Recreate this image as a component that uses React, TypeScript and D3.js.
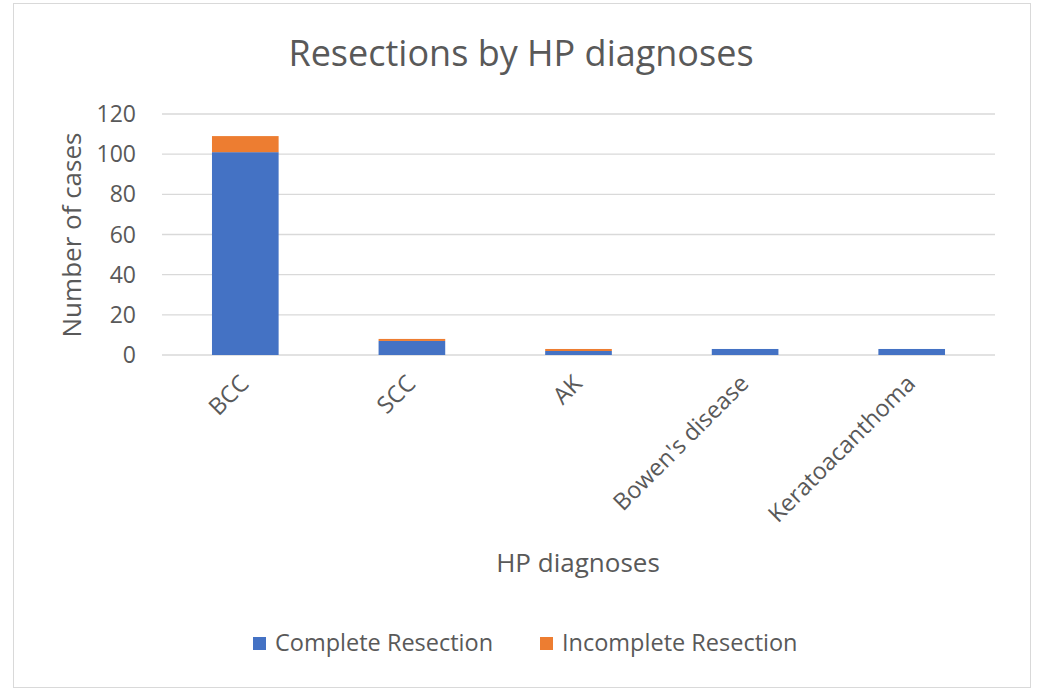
import { useEffect, useRef } from 'react';
import * as d3 from 'd3';

const categories = ['BCC', 'SCC', 'AK', "Bowen's disease", 'Keratoacanthoma'];
const complete = [101, 7, 2, 3, 3];
const incomplete = [8, 1, 1, 0, 0];
const seriesNames = ['Complete Resection', 'Incomplete Resection'];
const yTicks = [0, 20, 40, 60, 80, 100, 120];

const W = 1040;
const H = 699;
const colors = ['#4472C4', '#ED7D31'];
const textColor = '#595959';
const font = '"Open Sans", sans-serif';

export default function App() {
    const svgRef = useRef<SVGSVGElement | null>(null);

    useEffect(() => {
        if (!svgRef.current) return;
        const svg = d3.select(svgRef.current);
        svg.selectAll('*').remove();

        // chart area border
        svg.append('rect')
            .attr('x', 13.5).attr('y', 3.5)
            .attr('width', 1017).attr('height', 684)
            .attr('fill', '#fff')
            .attr('stroke', '#d9d9d9');

        const x = d3.scaleBand<string>()
            .domain(categories)
            .range([162, 995])
            .paddingInner(0.6)
            .paddingOuter(0.3);

        const y = d3.scaleLinear().domain([0, 120]).range([355, 114]);

        // gridlines
        svg.append('g')
            .selectAll('line')
            .data(yTicks)
            .join('line')
            .attr('x1', 162).attr('x2', 995)
            .attr('y1', d => y(d)).attr('y2', d => y(d))
            .attr('stroke', '#d9d9d9')
            .attr('stroke-width', 1.3);

        // y tick labels
        svg.append('g')
            .selectAll('text')
            .data(yTicks)
            .join('text')
            .attr('x', 136)
            .attr('y', d => y(d))
            .attr('dy', '0.35em')
            .attr('text-anchor', 'end')
            .attr('font-family', font)
            .attr('font-size', 23)
            .attr('fill', textColor)
            .text(d => d);

        // stacked bars
        const rows = categories.map((c, i) => ({ cat: c, complete: complete[i], incomplete: incomplete[i] }));
        const stack = d3.stack<typeof rows[number]>().keys(['complete', 'incomplete']);
        const layers = stack(rows);

        svg.append('g')
            .selectAll('g')
            .data(layers)
            .join('g')
            .attr('fill', (_, i) => colors[i])
            .selectAll('rect')
            .data(d => d)
            .join('rect')
            .attr('x', d => x(d.data.cat)!)
            .attr('width', x.bandwidth())
            .attr('y', d => y(d[1]))
            .attr('height', d => y(d[0]) - y(d[1]));

        // x labels
        svg.append('g')
            .selectAll('text')
            .data(categories)
            .join('text')
            .attr('transform', d => `translate(${x(d)! + x.bandwidth() / 2 + 5}, 385) rotate(-45)`)
            .attr('text-anchor', 'end')
            .attr('font-family', font)
            .attr('font-size', 23.5)
            .attr('fill', textColor)
            .text(d => d);

        // title
        svg.append('text')
            .attr('x', 521).attr('y', 66)
            .attr('text-anchor', 'middle')
            .attr('font-family', font)
            .attr('font-size', 36)
            .attr('fill', textColor)
            .text('Resections by HP diagnoses');

        // axis titles
        svg.append('text')
            .attr('transform', 'translate(81, 235) rotate(-90)')
            .attr('text-anchor', 'middle')
            .attr('font-family', font)
            .attr('font-size', 26)
            .attr('fill', textColor)
            .text('Number of cases');

        svg.append('text')
            .attr('x', 578).attr('y', 572)
            .attr('text-anchor', 'middle')
            .attr('font-family', font)
            .attr('font-size', 26)
            .attr('fill', textColor)
            .text('HP diagnoses');

        // legend
        const legendX = [253, 540];
        const legend = svg.append('g')
            .selectAll('g')
            .data(seriesNames)
            .join('g')
            .attr('transform', (_, i) => `translate(${legendX[i]}, 643)`);
        legend.append('rect')
            .attr('x', 0).attr('y', -6)
            .attr('width', 13).attr('height', 13)
            .attr('fill', (_, i) => colors[i]);
        legend.append('text')
            .attr('x', 22).attr('y', 0)
            .attr('dy', '0.35em')
            .attr('font-family', font)
            .attr('font-size', 23.5)
            .attr('fill', textColor)
            .text(d => d);
    }, []);

    return (
        <svg
            ref={svgRef}
            width={W}
            height={H}
            style={{ position: 'absolute', left: 0, top: 0, background: '#fff' }}
        />
    );
}
